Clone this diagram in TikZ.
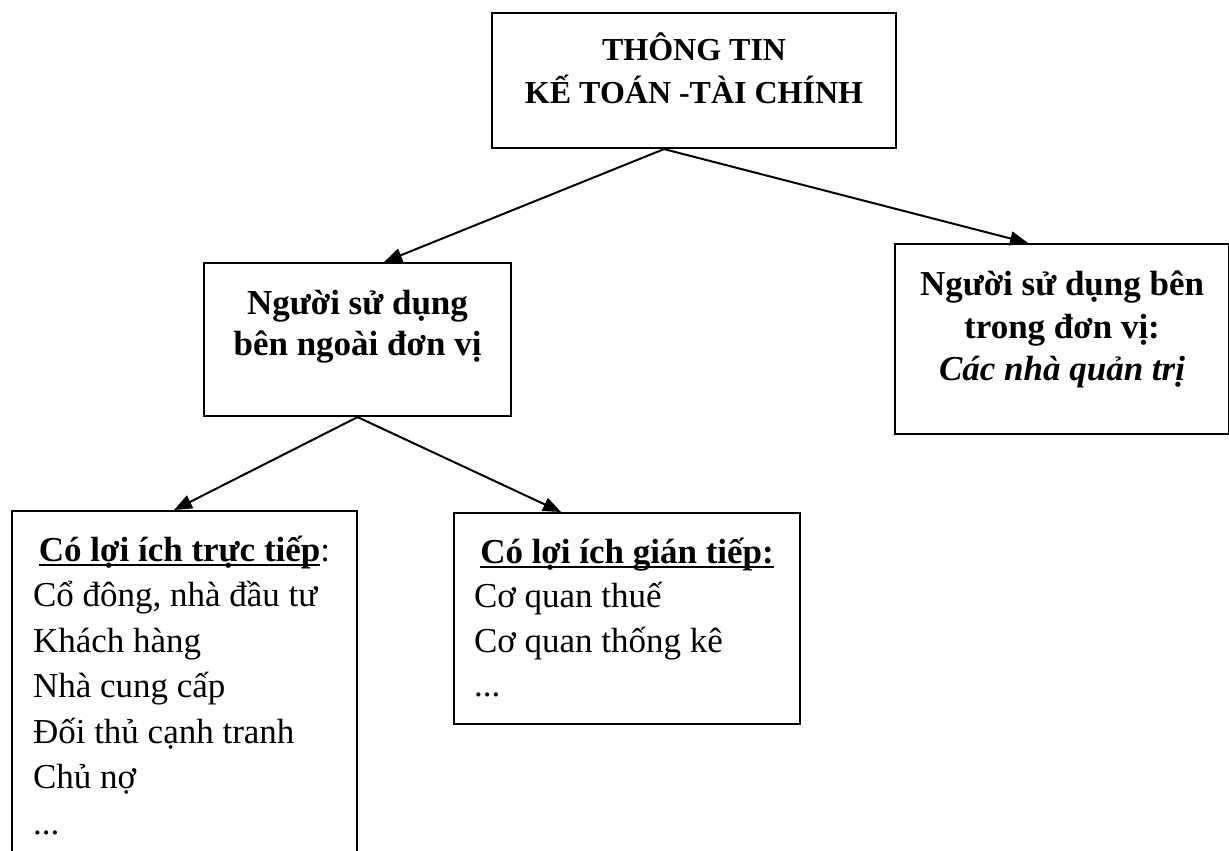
\documentclass[tikz,border=0pt]{standalone}
\usepackage{fontspec}
\setmainfont{Liberation Serif}
\usetikzlibrary{arrows.meta}
\newcommand{\myul}[1]{\leavevmode\setbox0\hbox{#1}\rlap{\rule[-5pt]{\wd0}{1.9pt}}\box0}
\tikzset{
  box/.style={draw, line width=2.1pt, inner sep=0pt, anchor=north west},
  arr/.style={line width=2pt, -{Triangle[length=18pt,width=14pt]}}
}
\begin{document}
\begin{tikzpicture}[x=1pt,y=-1pt]
\path[use as bounding box, fill=white] (0,0) rectangle (1229,851);
\clip (0,0) rectangle (1229,851);

\node[box] (top) at (491,12) {\begin{minipage}[t][135pt][t]{404pt}
\fontsize{32}{43}\selectfont\bfseries\centering
\rule{0pt}{47.5pt}THÔNG TIN\\
KẾ TOÁN -TÀI CHÍNH\par
\end{minipage}};

\node[box] (ext) at (203,262) {\begin{minipage}[t][153pt][t]{307pt}
\fontsize{35}{41.5}\selectfont\bfseries\centering
\rule{0pt}{51pt}Người sử dụng\\
bên ngoài đơn vị\par
\end{minipage}};

\node[box] (int) at (894,243) {\begin{minipage}[t][190pt][t]{334pt}
\fontsize{35}{42.5}\selectfont\bfseries\centering
\rule{0pt}{51.5pt}Người sử dụng bên\\
trong đơn vị:\\
\textit{Các nhà quản trị}\par
\end{minipage}};

\node[box] (direct) at (11,510) {\begin{minipage}[t][360pt][t]{345pt}
\fontsize{35}{45.5}\selectfont
{\centering\rule{0pt}{50pt}\myul{\textbf{Có lợi ích trực tiếp}}:\par}
\leftskip=21pt
Cổ đông, nhà đầu tư\\
Khách hàng\\
Nhà cung cấp\\
Đối thủ cạnh tranh\\
Chủ nợ\\
...\par
\end{minipage}};

\node[box] (indirect) at (453,512) {\begin{minipage}[t][211pt][t]{346pt}
\fontsize{35}{44.5}\selectfont
{\centering\rule{0pt}{50pt}\myul{\textbf{Có lợi ích gián tiếp:}}\par}
\leftskip=20pt
Cơ quan thuế\\
Cơ quan thống kê\\
...\par
\end{minipage}};

\draw[arr] ([xshift=-30pt]top.south) -- ([xshift=26.5pt]ext.north);
\draw[arr] ([xshift=-30pt]top.south) -- ([xshift=-34pt]int.north);
\draw[arr] (ext.south) -- ([xshift=-10.5pt]direct.north);
\draw[arr] (ext.south) -- ([xshift=-66pt]indirect.north);
\end{tikzpicture}
\end{document}
